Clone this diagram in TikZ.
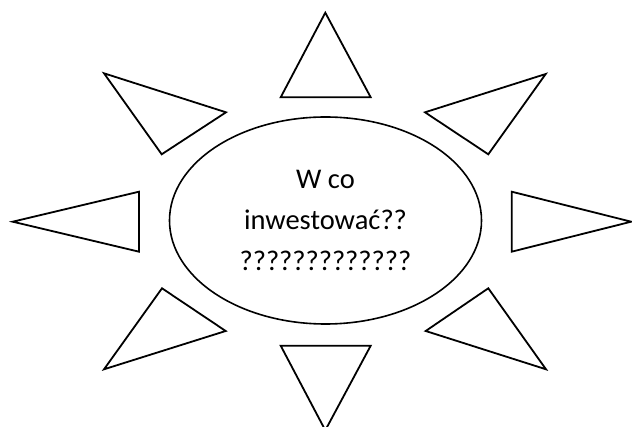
\documentclass[tikz,border=0pt]{standalone}
\usepackage{fontspec}
\setmainfont{Carlito}
\usepackage{tikz}
\usetikzlibrary{
  shapes.geometric,
  positioning
}
\tikzset{
  bubble/.style={
    ellipse, draw=black, line width=1.6pt,
    minimum width=312pt, minimum height=207pt,
    inner sep=0pt, align=center,
    font=\fontsize{28.5}{41}\selectfont
  },
  ray/.style={
    draw=black, line width=1.8pt, line join=miter
  }
}

\begin{document}
\begin{tikzpicture}[x=1pt, y=-1pt]

    \useasboundingbox (0,0) rectangle (632,427);

    %% ---- Centre ----------------------------------------------------
    \node[bubble] (idea) at (325.5,220.5)
      {W co\\inwestować??\\?????????????};

    %% ---- Rays ------------------------------------------------------
    \draw[ray] (325.3,12.7) -- (370.7,97.3) -- (280.7,97.3) -- cycle;
    \draw[ray] (280.7,345.7) -- (370.7,345.7) -- (325.3,430.3) -- cycle;

    \draw[ray] (12.7,221.7) -- (139,191.7) -- (139,251.7) -- cycle;
    \draw[ray] (511.7,191.7) -- (631.2,221.7) -- (511.7,251.7) -- cycle;

    \draw[ray] (104,73.3) -- (226,112.3) -- (161.7,154.3) -- cycle;
    \draw[ray] (545.7,74) -- (488.3,154.3) -- (425,112.3) -- cycle;

    \draw[ray] (162,288.3) -- (225.7,331) -- (104,369.3) -- cycle;
    \draw[ray] (488.3,288.3) -- (546,369.3) -- (425.7,331) -- cycle;

\end{tikzpicture}
\end{document}
